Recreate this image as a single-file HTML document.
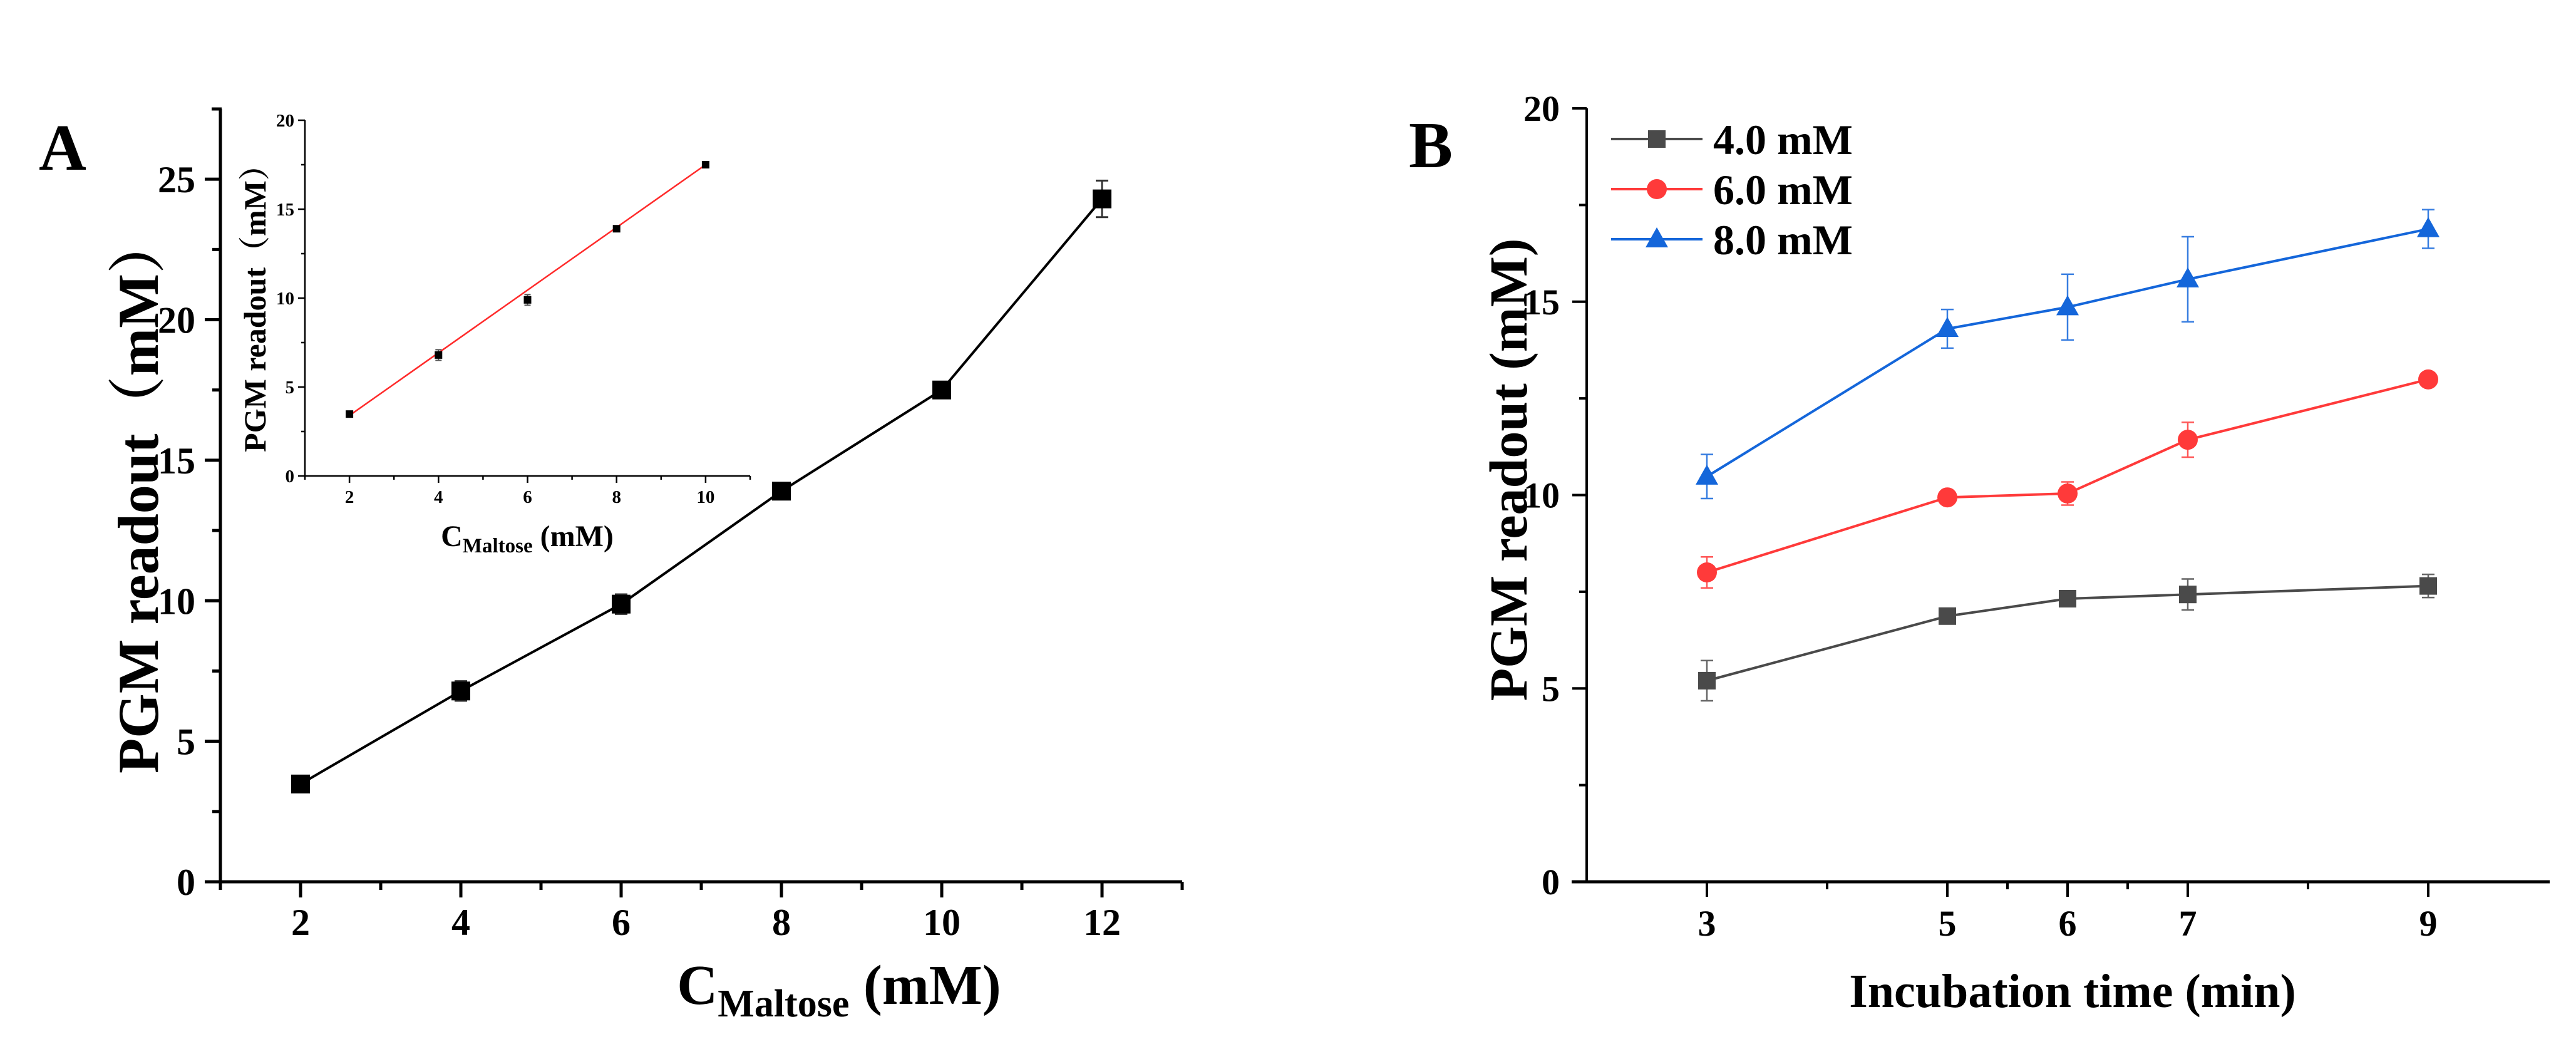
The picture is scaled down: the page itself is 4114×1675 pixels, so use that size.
<!DOCTYPE html>
<html><head><meta charset="utf-8"><style>
html,body{margin:0;padding:0;background:#fff;}
svg{display:block;}
text{font-family:"Liberation Serif","Noto Serif CJK SC",serif;font-weight:bold;fill:#000;}
</style></head><body>
<svg id="fig" width="4114" height="1675" viewBox="0 0 4114 1675" xmlns="http://www.w3.org/2000/svg"></svg>
<script>
// Panel A data
const aX = [2,4,6,8,10,12];
const aY = [3.48,6.79,9.88,13.9,17.5,24.3];
const aErr = [0.15,0.35,0.35,0.2,0.2,0.65];
const aXTicks = [2,4,6,8,10,12];
const aYTicks = [0,5,10,15,20,25];
// Inset data
const iX = [2,4,6,8,10];
const iY = [3.48,6.8,9.9,13.9,17.5];
const iErr = [0.1,0.3,0.3,0.1,0.1];
const iFit = [3.4,17.5];
const iXTicks = [2,4,6,8,10];
const iYTicks = [0,5,10,15,20];
// Panel B data
const bX = [3,5,6,7,9];
const bGray = [5.2,6.87,7.32,7.43,7.65];
const bGrayErr = [0.52,0.12,0.12,0.4,0.3];
const bRed = [8.0,9.94,10.04,11.43,12.99];
const bRedErr = [0.4,0.15,0.3,0.45,0.1];
const bBlue = [10.48,14.3,14.86,15.58,16.88];
const bBlueErr = [0.57,0.5,0.85,1.1,0.5];
const bXTicks = [3,5,6,7,9];
const bXMinor = [4,5.5,6.5,8];
const bYTicks = [0,5,10,15,20];
const bLegend = ['4.0 mM','6.0 mM','8.0 mM'];

const NS='http://www.w3.org/2000/svg';
const svg=document.getElementById('fig');
function mk(tag,attrs,parent){const e=document.createElementNS(NS,tag);for(const k in attrs)e.setAttribute(k,attrs[k]);(parent||svg).appendChild(e);return e;}
function txt(s,attrs,parent){const e=mk('text',attrs,parent);e.textContent=s;return e;}
function lin(d0,d1,r0,r1){return v=>r0+(v-d0)*(r1-r0)/(d1-d0);}

// ===== Panel A =====
const gA=mk('g',{});


const ax=lin(1,13,352,1888), ay=lin(0,27.5,1408,174);
const la=txt('A',{x:62,y:271,'font-size':105});

mk('line',{x1:352,y1:174,x2:352,y2:1411,stroke:'#000','stroke-width':5},gA);
mk('line',{x1:349,y1:1408,x2:1888,y2:1408,stroke:'#000','stroke-width':5},gA);
mk('line',{x1:338,y1:174,x2:354,y2:174,stroke:'#000','stroke-width':5},gA);
for(let v=1;v<=13;v++){const maj=aXTicks.includes(v);mk('line',{x1:ax(v),y1:1408,x2:ax(v),y2:1408+(maj?25:13),stroke:'#000','stroke-width':5},gA);}
for(let v=2.5;v<=27.5;v+=5){mk('line',{x1:352,y1:ay(v),x2:339,y2:ay(v),stroke:'#000','stroke-width':5},gA);}
aXTicks.forEach(v=>{const t=txt(v,{x:ax(v),y:1493,'font-size':60,'text-anchor':'middle'},gA);});
aYTicks.forEach(v=>{mk('line',{x1:352,y1:ay(v),x2:327,y2:ay(v),stroke:'#000','stroke-width':5},gA);const t=txt(v,{x:312,y:ay(v)+21,'font-size':60,'text-anchor':'end'},gA);});
let ayt=txt('PGM readout（mM）',{x:0,y:0,'font-size':92,'text-anchor':'middle',transform:'translate(252,790) rotate(-90)'},gA);

let axt=mk('text',{x:1340,y:1603,'font-size':90,'text-anchor':'middle'},gA);
axt.innerHTML='C<tspan font-size="62" dy="20">Maltose</tspan><tspan dy="-20"> (mM)</tspan>';

mk('polyline',{points:aX.map((x,i)=>ax(x)+','+ay(aY[i])).join(' '),fill:'none',stroke:'#000','stroke-width':4},gA);
aX.forEach((x,i)=>{
  const y1=ay(aY[i]+aErr[i]),y2=ay(aY[i]-aErr[i]),cx=ax(x);
  mk('path',{d:`M${cx},${y1}V${y2}M${cx-10},${y1}H${cx+10}M${cx-10},${y2}H${cx+10}`,stroke:'#333','stroke-width':3,fill:'none'},gA);
  const r=mk('rect',{x:cx-15,y:ay(aY[i])-15,width:30,height:30,fill:'#000'},gA);
  
});

// ===== Inset =====
const gI=mk('g',{});


const ix=lin(1,11,487,1198), iy=lin(0,20,760,192);
mk('line',{x1:487,y1:192,x2:487,y2:761,stroke:'#000','stroke-width':2.5},gI);
mk('line',{x1:486,y1:760,x2:1198,y2:760,stroke:'#000','stroke-width':2.5},gI);
for(let v=1;v<=11;v++){const maj=iXTicks.includes(v);mk('line',{x1:ix(v),y1:760,x2:ix(v),y2:760+(maj?11:6),stroke:'#000','stroke-width':2.5},gI);}
for(let v=2.5;v<20;v+=5){mk('line',{x1:487,y1:iy(v),x2:481,y2:iy(v),stroke:'#000','stroke-width':2.5},gI);}
iXTicks.forEach(v=>{txt(v,{x:ix(v),y:803,'font-size':29,'text-anchor':'middle'},gI);});
iYTicks.forEach(v=>{mk('line',{x1:487,y1:iy(v),x2:476,y2:iy(v),stroke:'#000','stroke-width':2.5},gI);txt(v,{x:470,y:iy(v)+10,'font-size':29,'text-anchor':'end'},gI);});
let iyt=txt('PGM readout（mM）',{x:0,y:0,'font-size':50,'text-anchor':'middle',transform:'translate(424,480) rotate(-90)'},gI);

let ixt=mk('text',{x:842,y:872,'font-size':48,'text-anchor':'middle'},gI);
ixt.innerHTML='C<tspan font-size="33" dy="10">Maltose</tspan><tspan dy="-10"> (mM)</tspan>';

const fl=mk('line',{x1:ix(iX[0]),y1:iy(iFit[0]),x2:ix(iX[iX.length-1]),y2:iy(iFit[1]),stroke:'#ff2a2a','stroke-width':2.5},gI);

iX.forEach((x,i)=>{
  const cx=ix(x),y1=iy(iY[i]+iErr[i]),y2=iy(iY[i]-iErr[i]);
  mk('path',{d:`M${cx},${y1}V${y2}M${cx-5},${y1}H${cx+5}M${cx-5},${y2}H${cx+5}`,stroke:'#555','stroke-width':2,fill:'none'},gI);
  const r=mk('rect',{x:cx-6,y:iy(iY[i])-6,width:12,height:12,fill:'#000'},gI);
  
});

// ===== Panel B =====
const gB=mk('g',{});


const bx=lin(2,10,2534,4070), by=lin(0,20,1408,173);
const lb=txt('B',{x:2250,y:267,'font-size':105});

mk('line',{x1:2534,y1:173,x2:2534,y2:1410,stroke:'#000','stroke-width':4},gB);
mk('line',{x1:2510,y1:1408,x2:4072,y2:1408,stroke:'#000','stroke-width':5},gB);
bXTicks.forEach(v=>{mk('line',{x1:bx(v),y1:1408,x2:bx(v),y2:1432,stroke:'#000','stroke-width':4},gB);const t=txt(v,{x:bx(v),y:1494,'font-size':58,'text-anchor':'middle'},gB);});
bXMinor.forEach(v=>{mk('line',{x1:bx(v),y1:1408,x2:bx(v),y2:1420,stroke:'#000','stroke-width':4},gB);});
for(let v=2.5;v<20;v+=5){mk('line',{x1:2534,y1:by(v),x2:2522,y2:by(v),stroke:'#000','stroke-width':4},gB);}
bYTicks.forEach(v=>{mk('line',{x1:2534,y1:by(v),x2:2511,y2:by(v),stroke:'#000','stroke-width':4},gB);const t=txt(v,{x:2491,y:by(v)+20,'font-size':58,'text-anchor':'end'},gB);});
let byt=txt('PGM readout (mM)',{x:0,y:0,'font-size':86,'text-anchor':'middle',transform:'translate(2438,750) rotate(-90)'},gB);

let bxt=txt('Incubation time (min)',{x:3310,y:1608,'font-size':76,'text-anchor':'middle'},gB);


function marker(kind,cx,cy,col,parent){
  let m;
  if(kind==='sq') m=mk('rect',{x:cx-14,y:cy-14,width:28,height:28,fill:col},parent);
  else if(kind==='ci') m=mk('circle',{cx:cx,cy:cy,r:16,fill:col},parent);
  else m=mk('polygon',{points:`${cx},${cy-19} ${cx+18},${cy+13} ${cx-18},${cy+13}`,fill:col},parent);
  return m;
}
const series=[[bGray,bGrayErr,'#4a4a4a','sq','series-4mM'],[bRed,bRedErr,'#ff3a3a','ci','series-6mM'],[bBlue,bBlueErr,'#1466da','tr','series-8mM']];
series.forEach(([vals,errs,col,kind,name])=>{
  const g=mk('g',{},gB);
  
  
  mk('polyline',{points:bX.map((x,i)=>bx(x)+','+by(vals[i])).join(' '),fill:'none',stroke:col,'stroke-width':4},g);
  bX.forEach((x,i)=>{
    const cx=bx(x),y1=by(vals[i]+errs[i]),y2=by(vals[i]-errs[i]);
    mk('path',{d:`M${cx},${y1}V${y2}M${cx-10},${y1}H${cx+10}M${cx-10},${y2}H${cx+10}`,stroke:col,'stroke-width':2.5,fill:'none',opacity:0.85},g);
    const m=marker(kind,cx,by(vals[i]),col,g);
    
  });
});
const legY=[222,302,382];
series.forEach((s,i)=>{
  const g=mk('g',{},gB);
  
  
  mk('line',{x1:2573,y1:legY[i],x2:2719,y2:legY[i],stroke:s[2],'stroke-width':4},g);
  marker(s[3],2646,legY[i],s[2],g);
  txt(bLegend[i],{x:2736,y:legY[i]+24,'font-size':68},g);
});
</script>
</body></html>
